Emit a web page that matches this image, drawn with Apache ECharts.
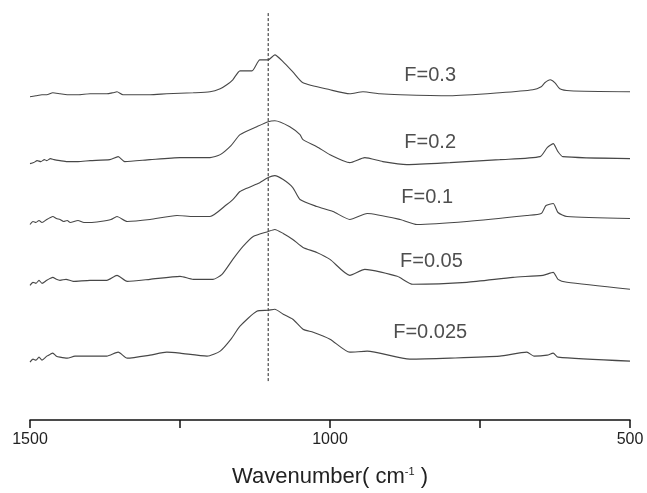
<!DOCTYPE html>
<html>
<head>
<meta charset="utf-8">
<script src="https://cdn.jsdelivr.net/npm/echarts@6/dist/echarts.min.js"></script>
<style>
  html, body { margin: 0; padding: 0; background: #fff; }
  #chart { width: 647px; height: 493px; }
</style>
</head>
<body>
<div id="chart"></div>
<script>
// FTIR spectra (stacked, arbitrary absorbance units) for each F ratio
const seriesNames = ['F=0.3', 'F=0.2', 'F=0.1', 'F=0.05', 'F=0.025'];

const specF030 = [
  [1500,3.24],[1490,3.25],[1480,3.26],[1472,3.26],[1462,3.28],[1450,3.27],[1438,3.26],[1420,3.26],
  [1400,3.27],[1372,3.27],[1362,3.28],[1355,3.29],[1345,3.26],[1300,3.26],[1272,3.27],[1228,3.28],
  [1200,3.29],[1183,3.32],[1172,3.36],[1162,3.41],[1150,3.50],[1130,3.50],[1117,3.61],[1103,3.61],
  [1092,3.66],[1078,3.59],[1062,3.49],[1045,3.38],[1000,3.31],[967,3.27],[945,3.29],[917,3.27],
  [883,3.26],[800,3.25],[717,3.28],[662,3.31],[648,3.34],[642,3.38],[633,3.41],[625,3.38],
  [617,3.32],[600,3.30],[500,3.29]
];

const specF020 = [
  [1500,2.57],[1494,2.58],[1488,2.60],[1482,2.59],[1476,2.61],[1472,2.60],[1466,2.62],[1460,2.61],
  [1450,2.60],[1438,2.59],[1420,2.59],[1400,2.60],[1367,2.61],[1353,2.64],[1342,2.59],[1300,2.61],
  [1250,2.63],[1200,2.63],[1183,2.66],[1165,2.75],[1150,2.86],[1122,2.94],[1103,2.99],[1092,3.00],
  [1067,2.94],[1050,2.86],[1045,2.81],[1022,2.74],[1000,2.66],[967,2.58],[942,2.63],[912,2.59],
  [872,2.56],[800,2.58],[717,2.61],[650,2.64],[638,2.73],[628,2.77],[620,2.69],[612,2.64],[500,2.62]
];

const specF010 = [
  [1500,1.96],[1495,1.99],[1490,1.98],[1485,2.00],[1480,1.98],[1472,2.01],[1466,2.03],[1462,2.04],
  [1456,2.02],[1450,2.01],[1444,1.99],[1438,2.00],[1433,1.98],[1420,2.00],[1410,1.98],[1400,1.98],
  [1383,1.99],[1365,2.01],[1355,2.04],[1338,1.99],[1300,2.01],[1255,2.05],[1228,2.04],[1200,2.04],
  [1172,2.16],[1162,2.21],[1150,2.29],[1140,2.32],[1120,2.37],[1103,2.43],[1092,2.45],[1078,2.41],
  [1062,2.33],[1050,2.21],[1022,2.14],[995,2.09],[967,2.01],[938,2.07],[883,2.01],[855,1.96],
  [772,1.99],[672,2.05],[648,2.07],[640,2.15],[628,2.17],[620,2.08],[605,2.04],[500,2.02]
];

const specF005 = [
  [1500,1.35],[1495,1.38],[1490,1.37],[1485,1.40],[1480,1.37],[1472,1.40],[1466,1.42],[1462,1.43],
  [1456,1.41],[1450,1.40],[1440,1.41],[1428,1.39],[1400,1.40],[1372,1.40],[1355,1.45],[1338,1.39],
  [1300,1.41],[1250,1.44],[1228,1.41],[1195,1.41],[1180,1.46],[1162,1.61],[1145,1.74],[1128,1.84],
  [1103,1.89],[1092,1.91],[1078,1.87],[1062,1.81],[1045,1.73],[1022,1.68],[1000,1.61],[967,1.45],
  [942,1.51],[888,1.44],[862,1.36],[772,1.38],[695,1.43],[645,1.45],[628,1.48],[620,1.41],
  [605,1.38],[500,1.31]
];

const specF0025 = [
  [1500,0.58],[1495,0.61],[1490,0.60],[1485,0.63],[1480,0.60],[1472,0.64],[1466,0.66],[1462,0.67],
  [1456,0.64],[1450,0.63],[1438,0.62],[1425,0.64],[1400,0.64],[1372,0.64],[1353,0.68],[1338,0.62],
  [1300,0.65],[1272,0.68],[1250,0.67],[1205,0.64],[1183,0.69],[1165,0.81],[1150,0.94],[1122,1.09],
  [1103,1.10],[1092,1.11],[1078,1.06],[1062,1.01],[1045,0.91],[1028,0.88],[1000,0.81],[967,0.68],
  [938,0.69],[867,0.61],[800,0.62],[717,0.64],[672,0.68],[660,0.64],[638,0.65],[628,0.67],
  [620,0.63],[500,0.59]
];

const spectra = [specF030, specF020, specF010, specF005, specF0025];

// x-axis ticks (cm-1); only every other tick carries a label
const xTicks = [1500, 1250, 1000, 750, 500];
const xLabelled = [1500, 1000, 500];

// reference band marked by the vertical dashed line
const refWavenumber = 1103;
const refSpan = [0.39, 4.08];

// where each curve's name is written: [wavenumber, height]
const labelPos = [[833, 3.45], [833, 2.78], [838, 2.23], [831, 1.59], [833, 0.88]];

const FONT = '"Liberation Sans", Arial, sans-serif';
const chart = echarts.init(document.getElementById('chart'), null, { renderer: 'canvas' });

const series = spectra.map((d, i) => ({
  name: seriesNames[i],
  type: 'line',
  data: d,
  showSymbol: false,
  symbol: 'none',
  smooth: 0.2,
  lineStyle: { color: '#474747', width: 1.1 },
  silent: true,
  z: 3
}));

series.push({
  name: 'ref',
  type: 'line',
  data: [[refWavenumber, refSpan[0]], [refWavenumber, refSpan[1]]],
  showSymbol: false,
  symbol: 'none',
  lineStyle: { color: '#222', width: 1, type: [3, 2] },
  silent: true,
  z: 2
});

series.push({
  name: 'names',
  type: 'scatter',
  symbolSize: 0,
  silent: true,
  data: labelPos.map((p, i) => ({ value: p, name: seriesNames[i] })),
  label: {
    show: true,
    position: 'inside',
    formatter: p => p.name,
    fontFamily: FONT,
    fontSize: 20,
    color: '#222'
  },
  z: 4
});

chart.setOption({
  backgroundColor: '#ffffff',
  animation: false,
  grid: { left: 30, right: 17, top: 0, bottom: 72, containLabel: false },
  xAxis: {
    type: 'value',
    inverse: true,
    min: 500,
    max: 1500,
    interval: 250,
    name: 'Wavenumber( cm{s|-1} )',
    nameLocation: 'middle',
    nameGap: 46,
    nameTextStyle: {
      fontFamily: FONT,
      fontSize: 22,
      color: '#222',
      rich: {
        s: { fontFamily: FONT, fontSize: 11, color: '#222', verticalAlign: 'top', lineHeight: 12 }
      }
    },
    axisLine: { show: true, lineStyle: { color: '#111', width: 1.5 } },
    axisTick: { show: true, inside: false, length: 8, lineStyle: { color: '#111', width: 1.5 } },
    axisLabel: {
      margin: 12,
      fontFamily: FONT,
      fontSize: 16,
      color: '#222',
      formatter: v => (xLabelled.indexOf(v) >= 0 ? String(v) : '')
    },
    splitLine: { show: false }
  },
  yAxis: {
    type: 'value',
    min: 0,
    max: 4.21,
    show: false,
    splitLine: { show: false }
  },
  series: series
});
</script>
</body>
</html>
